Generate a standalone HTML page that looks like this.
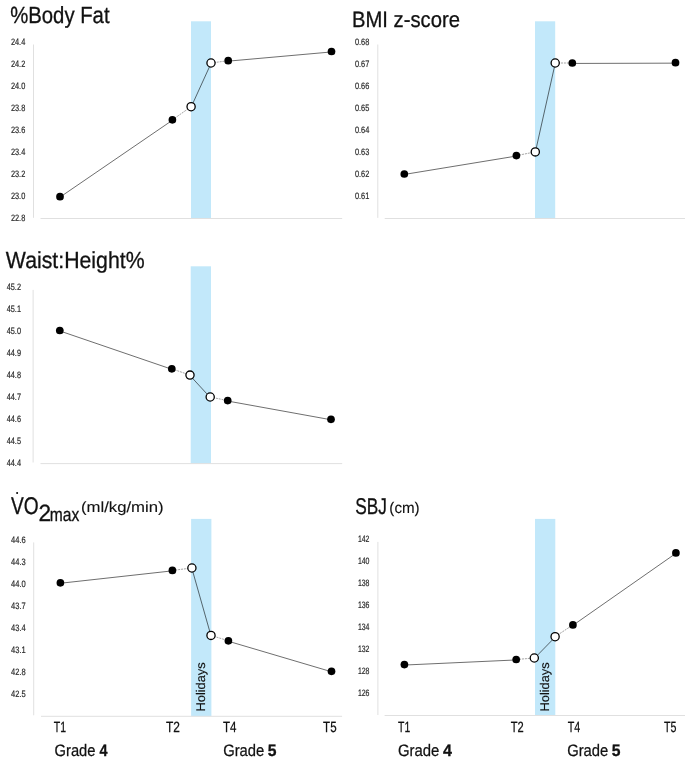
<!DOCTYPE html><html><head><meta charset="utf-8"><style>html,body{margin:0;padding:0;background:#fff;}svg{display:block;will-change:transform;}text{font-family:"Liberation Sans", sans-serif;text-rendering:geometricPrecision;}</style></head><body>
<svg width="685" height="762" viewBox="0 0 685 762">
<rect width="685" height="762" fill="#fff"/>
<rect x="191" y="21.3" width="20" height="197.2" fill="#c2e8fa"/>
<line x1="33.5" y1="44.5" x2="33.5" y2="217.8" stroke="#e0e0e0" stroke-width="1"/>
<line x1="40.5" y1="218.5" x2="342.2" y2="218.5" stroke="#e0e0e0" stroke-width="1"/>
<text x="25.3" y="44.9" font-size="9.3" text-anchor="end" fill="#2a2a2a" textLength="14.4" lengthAdjust="spacingAndGlyphs" stroke="#2a2a2a" stroke-width="0.2">24.4</text>
<text x="25.3" y="66.9" font-size="9.3" text-anchor="end" fill="#2a2a2a" textLength="14.4" lengthAdjust="spacingAndGlyphs" stroke="#2a2a2a" stroke-width="0.2">24.2</text>
<text x="25.3" y="88.9" font-size="9.3" text-anchor="end" fill="#2a2a2a" textLength="14.4" lengthAdjust="spacingAndGlyphs" stroke="#2a2a2a" stroke-width="0.2">24.0</text>
<text x="25.3" y="110.9" font-size="9.3" text-anchor="end" fill="#2a2a2a" textLength="14.4" lengthAdjust="spacingAndGlyphs" stroke="#2a2a2a" stroke-width="0.2">23.8</text>
<text x="25.3" y="132.9" font-size="9.3" text-anchor="end" fill="#2a2a2a" textLength="14.4" lengthAdjust="spacingAndGlyphs" stroke="#2a2a2a" stroke-width="0.2">23.6</text>
<text x="25.3" y="154.9" font-size="9.3" text-anchor="end" fill="#2a2a2a" textLength="14.4" lengthAdjust="spacingAndGlyphs" stroke="#2a2a2a" stroke-width="0.2">23.4</text>
<text x="25.3" y="176.9" font-size="9.3" text-anchor="end" fill="#2a2a2a" textLength="14.4" lengthAdjust="spacingAndGlyphs" stroke="#2a2a2a" stroke-width="0.2">23.2</text>
<text x="25.3" y="198.9" font-size="9.3" text-anchor="end" fill="#2a2a2a" textLength="14.4" lengthAdjust="spacingAndGlyphs" stroke="#2a2a2a" stroke-width="0.2">23.0</text>
<text x="25.3" y="220.9" font-size="9.3" text-anchor="end" fill="#2a2a2a" textLength="14.4" lengthAdjust="spacingAndGlyphs" stroke="#2a2a2a" stroke-width="0.2">22.8</text>
<line x1="60" y1="197.15" x2="172.4" y2="120.25" stroke="#000" stroke-opacity="0.57" stroke-width="1"/>
<line x1="172.4" y1="119.8" x2="191.1" y2="106.7" stroke="#a4a4a4" stroke-width="1" stroke-dasharray="2 0.9"/>
<line x1="191.1" y1="107.15" x2="211" y2="63.45" stroke="#000" stroke-opacity="0.57" stroke-width="1"/>
<line x1="211" y1="63" x2="228.2" y2="60.7" stroke="#a4a4a4" stroke-width="1" stroke-dasharray="2 0.9"/>
<line x1="228.2" y1="61.15" x2="331.5" y2="51.95" stroke="#000" stroke-opacity="0.57" stroke-width="1"/>
<circle cx="60" cy="196.7" r="3.85" fill="#000"/>
<circle cx="172.4" cy="119.8" r="3.85" fill="#000"/>
<circle cx="228.2" cy="60.7" r="3.85" fill="#000"/>
<circle cx="331.5" cy="51.5" r="3.85" fill="#000"/>
<circle cx="191.1" cy="106.7" r="4.1" fill="#fff" stroke="#000" stroke-width="1.3"/>
<circle cx="211" cy="63" r="4.1" fill="#fff" stroke="#000" stroke-width="1.3"/>
<rect x="535" y="21.3" width="20.2" height="197.2" fill="#c2e8fa"/>
<line x1="377.8" y1="44.5" x2="377.8" y2="217.9" stroke="#e0e0e0" stroke-width="1"/>
<line x1="384.7" y1="218.5" x2="685" y2="218.5" stroke="#e0e0e0" stroke-width="1"/>
<text x="369.3" y="44.8" font-size="9.3" text-anchor="end" fill="#2a2a2a" textLength="14.4" lengthAdjust="spacingAndGlyphs" stroke="#2a2a2a" stroke-width="0.2">0.68</text>
<text x="369.3" y="66.8" font-size="9.3" text-anchor="end" fill="#2a2a2a" textLength="14.4" lengthAdjust="spacingAndGlyphs" stroke="#2a2a2a" stroke-width="0.2">0.67</text>
<text x="369.3" y="88.8" font-size="9.3" text-anchor="end" fill="#2a2a2a" textLength="14.4" lengthAdjust="spacingAndGlyphs" stroke="#2a2a2a" stroke-width="0.2">0.66</text>
<text x="369.3" y="110.8" font-size="9.3" text-anchor="end" fill="#2a2a2a" textLength="14.4" lengthAdjust="spacingAndGlyphs" stroke="#2a2a2a" stroke-width="0.2">0.65</text>
<text x="369.3" y="132.8" font-size="9.3" text-anchor="end" fill="#2a2a2a" textLength="14.4" lengthAdjust="spacingAndGlyphs" stroke="#2a2a2a" stroke-width="0.2">0.64</text>
<text x="369.3" y="154.8" font-size="9.3" text-anchor="end" fill="#2a2a2a" textLength="14.4" lengthAdjust="spacingAndGlyphs" stroke="#2a2a2a" stroke-width="0.2">0.63</text>
<text x="369.3" y="176.8" font-size="9.3" text-anchor="end" fill="#2a2a2a" textLength="14.4" lengthAdjust="spacingAndGlyphs" stroke="#2a2a2a" stroke-width="0.2">0.62</text>
<text x="369.3" y="198.8" font-size="9.3" text-anchor="end" fill="#2a2a2a" textLength="14.4" lengthAdjust="spacingAndGlyphs" stroke="#2a2a2a" stroke-width="0.2">0.61</text>
<line x1="404.3" y1="174.45" x2="516.4" y2="156.05" stroke="#000" stroke-opacity="0.57" stroke-width="1"/>
<line x1="516.4" y1="155.6" x2="535.3" y2="151.9" stroke="#a4a4a4" stroke-width="1" stroke-dasharray="2 0.9"/>
<line x1="535.3" y1="152.35" x2="555.2" y2="63.45" stroke="#000" stroke-opacity="0.57" stroke-width="1"/>
<line x1="555.2" y1="63.0" x2="572.3" y2="63.0" stroke="#a4a4a4" stroke-width="1" stroke-dasharray="2 0.9"/>
<line x1="572.3" y1="63.45" x2="675.5" y2="63.15" stroke="#000" stroke-opacity="0.57" stroke-width="1"/>
<circle cx="404.3" cy="174.0" r="3.85" fill="#000"/>
<circle cx="516.4" cy="155.6" r="3.85" fill="#000"/>
<circle cx="572.3" cy="63.0" r="3.85" fill="#000"/>
<circle cx="675.5" cy="62.7" r="3.85" fill="#000"/>
<circle cx="535.3" cy="151.9" r="4.1" fill="#fff" stroke="#000" stroke-width="1.3"/>
<circle cx="555.2" cy="63.0" r="4.1" fill="#fff" stroke="#000" stroke-width="1.3"/>
<rect x="190.7" y="266.3" width="20.3" height="197.3" fill="#c2e8fa"/>
<line x1="33.1" y1="289.9" x2="33.1" y2="462.5" stroke="#e0e0e0" stroke-width="1"/>
<line x1="40.5" y1="463.6" x2="342.2" y2="463.6" stroke="#e0e0e0" stroke-width="1"/>
<text x="21.0" y="289.6" font-size="9.3" text-anchor="end" fill="#2a2a2a" textLength="14.3" lengthAdjust="spacingAndGlyphs" stroke="#2a2a2a" stroke-width="0.2">45.2</text>
<text x="21.0" y="311.6" font-size="9.3" text-anchor="end" fill="#2a2a2a" textLength="14.3" lengthAdjust="spacingAndGlyphs" stroke="#2a2a2a" stroke-width="0.2">45.1</text>
<text x="21.0" y="333.6" font-size="9.3" text-anchor="end" fill="#2a2a2a" textLength="14.3" lengthAdjust="spacingAndGlyphs" stroke="#2a2a2a" stroke-width="0.2">45.0</text>
<text x="21.0" y="355.6" font-size="9.3" text-anchor="end" fill="#2a2a2a" textLength="14.3" lengthAdjust="spacingAndGlyphs" stroke="#2a2a2a" stroke-width="0.2">44.9</text>
<text x="21.0" y="377.6" font-size="9.3" text-anchor="end" fill="#2a2a2a" textLength="14.3" lengthAdjust="spacingAndGlyphs" stroke="#2a2a2a" stroke-width="0.2">44.8</text>
<text x="21.0" y="399.6" font-size="9.3" text-anchor="end" fill="#2a2a2a" textLength="14.3" lengthAdjust="spacingAndGlyphs" stroke="#2a2a2a" stroke-width="0.2">44.7</text>
<text x="21.0" y="421.6" font-size="9.3" text-anchor="end" fill="#2a2a2a" textLength="14.3" lengthAdjust="spacingAndGlyphs" stroke="#2a2a2a" stroke-width="0.2">44.6</text>
<text x="21.0" y="443.6" font-size="9.3" text-anchor="end" fill="#2a2a2a" textLength="14.3" lengthAdjust="spacingAndGlyphs" stroke="#2a2a2a" stroke-width="0.2">44.5</text>
<text x="21.0" y="465.6" font-size="9.3" text-anchor="end" fill="#2a2a2a" textLength="14.3" lengthAdjust="spacingAndGlyphs" stroke="#2a2a2a" stroke-width="0.2">44.4</text>
<line x1="59.8" y1="330.95" x2="171.8" y2="369.25" stroke="#000" stroke-opacity="0.57" stroke-width="1"/>
<line x1="171.8" y1="368.8" x2="190.0" y2="375.1" stroke="#a4a4a4" stroke-width="1" stroke-dasharray="2 0.9"/>
<line x1="190.0" y1="375.55" x2="210.2" y2="397.45" stroke="#000" stroke-opacity="0.57" stroke-width="1"/>
<line x1="210.2" y1="397.0" x2="227.7" y2="400.6" stroke="#a4a4a4" stroke-width="1" stroke-dasharray="2 0.9"/>
<line x1="227.7" y1="401.05" x2="331.0" y2="419.75" stroke="#000" stroke-opacity="0.57" stroke-width="1"/>
<circle cx="59.8" cy="330.5" r="3.85" fill="#000"/>
<circle cx="171.8" cy="368.8" r="3.85" fill="#000"/>
<circle cx="227.7" cy="400.6" r="3.85" fill="#000"/>
<circle cx="331.0" cy="419.3" r="3.85" fill="#000"/>
<circle cx="190.0" cy="375.1" r="4.1" fill="#fff" stroke="#000" stroke-width="1.3"/>
<circle cx="210.2" cy="397.0" r="4.1" fill="#fff" stroke="#000" stroke-width="1.3"/>
<rect x="191.1" y="518.9" width="20.3" height="197.4" fill="#c2e8fa"/>
<line x1="33.7" y1="542.4" x2="33.7" y2="715.3" stroke="#e0e0e0" stroke-width="1"/>
<line x1="41" y1="716.3" x2="342.1" y2="716.3" stroke="#e0e0e0" stroke-width="1"/>
<text x="25.8" y="542.8" font-size="9.3" text-anchor="end" fill="#2a2a2a" textLength="14.7" lengthAdjust="spacingAndGlyphs" stroke="#2a2a2a" stroke-width="0.2">44.6</text>
<text x="25.8" y="564.8" font-size="9.3" text-anchor="end" fill="#2a2a2a" textLength="14.7" lengthAdjust="spacingAndGlyphs" stroke="#2a2a2a" stroke-width="0.2">44.3</text>
<text x="25.8" y="586.8" font-size="9.3" text-anchor="end" fill="#2a2a2a" textLength="14.7" lengthAdjust="spacingAndGlyphs" stroke="#2a2a2a" stroke-width="0.2">44.0</text>
<text x="25.8" y="608.8" font-size="9.3" text-anchor="end" fill="#2a2a2a" textLength="14.7" lengthAdjust="spacingAndGlyphs" stroke="#2a2a2a" stroke-width="0.2">43.7</text>
<text x="25.8" y="630.8" font-size="9.3" text-anchor="end" fill="#2a2a2a" textLength="14.7" lengthAdjust="spacingAndGlyphs" stroke="#2a2a2a" stroke-width="0.2">43.4</text>
<text x="25.8" y="652.8" font-size="9.3" text-anchor="end" fill="#2a2a2a" textLength="14.7" lengthAdjust="spacingAndGlyphs" stroke="#2a2a2a" stroke-width="0.2">43.1</text>
<text x="25.8" y="674.8" font-size="9.3" text-anchor="end" fill="#2a2a2a" textLength="14.7" lengthAdjust="spacingAndGlyphs" stroke="#2a2a2a" stroke-width="0.2">42.8</text>
<text x="25.8" y="696.8" font-size="9.3" text-anchor="end" fill="#2a2a2a" textLength="14.7" lengthAdjust="spacingAndGlyphs" stroke="#2a2a2a" stroke-width="0.2">42.5</text>
<line x1="60.4" y1="583.25" x2="172.4" y2="570.85" stroke="#000" stroke-opacity="0.57" stroke-width="1"/>
<line x1="172.4" y1="570.4" x2="191.9" y2="568.0" stroke="#a4a4a4" stroke-width="1" stroke-dasharray="2 0.9"/>
<line x1="191.9" y1="568.45" x2="211.0" y2="635.85" stroke="#000" stroke-opacity="0.57" stroke-width="1"/>
<line x1="211.0" y1="635.4" x2="228.4" y2="640.8" stroke="#a4a4a4" stroke-width="1" stroke-dasharray="2 0.9"/>
<line x1="228.4" y1="641.25" x2="331.5" y2="671.75" stroke="#000" stroke-opacity="0.57" stroke-width="1"/>
<circle cx="60.4" cy="582.8" r="3.85" fill="#000"/>
<circle cx="172.4" cy="570.4" r="3.85" fill="#000"/>
<circle cx="228.4" cy="640.8" r="3.85" fill="#000"/>
<circle cx="331.5" cy="671.3" r="3.85" fill="#000"/>
<circle cx="191.9" cy="568.0" r="4.1" fill="#fff" stroke="#000" stroke-width="1.3"/>
<circle cx="211.0" cy="635.4" r="4.1" fill="#fff" stroke="#000" stroke-width="1.3"/>
<rect x="535" y="518.9" width="20.3" height="196.6" fill="#c2e8fa"/>
<line x1="377.9" y1="541.9" x2="377.9" y2="715.0" stroke="#e0e0e0" stroke-width="1"/>
<line x1="384.6" y1="715.5" x2="685" y2="715.5" stroke="#e0e0e0" stroke-width="1"/>
<text x="369.5" y="541.6" font-size="9.3" text-anchor="end" fill="#2a2a2a" textLength="11.6" lengthAdjust="spacingAndGlyphs" stroke="#2a2a2a" stroke-width="0.2">142</text>
<text x="369.5" y="563.6" font-size="9.3" text-anchor="end" fill="#2a2a2a" textLength="11.6" lengthAdjust="spacingAndGlyphs" stroke="#2a2a2a" stroke-width="0.2">140</text>
<text x="369.5" y="585.6" font-size="9.3" text-anchor="end" fill="#2a2a2a" textLength="11.6" lengthAdjust="spacingAndGlyphs" stroke="#2a2a2a" stroke-width="0.2">138</text>
<text x="369.5" y="607.6" font-size="9.3" text-anchor="end" fill="#2a2a2a" textLength="11.6" lengthAdjust="spacingAndGlyphs" stroke="#2a2a2a" stroke-width="0.2">136</text>
<text x="369.5" y="629.6" font-size="9.3" text-anchor="end" fill="#2a2a2a" textLength="11.6" lengthAdjust="spacingAndGlyphs" stroke="#2a2a2a" stroke-width="0.2">134</text>
<text x="369.5" y="651.6" font-size="9.3" text-anchor="end" fill="#2a2a2a" textLength="11.6" lengthAdjust="spacingAndGlyphs" stroke="#2a2a2a" stroke-width="0.2">132</text>
<text x="369.5" y="673.6" font-size="9.3" text-anchor="end" fill="#2a2a2a" textLength="11.6" lengthAdjust="spacingAndGlyphs" stroke="#2a2a2a" stroke-width="0.2">128</text>
<text x="369.5" y="695.6" font-size="9.3" text-anchor="end" fill="#2a2a2a" textLength="11.6" lengthAdjust="spacingAndGlyphs" stroke="#2a2a2a" stroke-width="0.2">126</text>
<line x1="404.4" y1="665.05" x2="516.2" y2="659.95" stroke="#000" stroke-opacity="0.57" stroke-width="1"/>
<line x1="516.2" y1="659.5" x2="534.3" y2="658.0" stroke="#a4a4a4" stroke-width="1" stroke-dasharray="2 0.9"/>
<line x1="534.3" y1="658.45" x2="555.1" y2="637.15" stroke="#000" stroke-opacity="0.57" stroke-width="1"/>
<line x1="555.1" y1="636.7" x2="572.9" y2="624.9" stroke="#a4a4a4" stroke-width="1" stroke-dasharray="2 0.9"/>
<line x1="572.9" y1="625.35" x2="675.9" y2="553.35" stroke="#000" stroke-opacity="0.57" stroke-width="1"/>
<circle cx="404.4" cy="664.6" r="3.85" fill="#000"/>
<circle cx="516.2" cy="659.5" r="3.85" fill="#000"/>
<circle cx="572.9" cy="624.9" r="3.85" fill="#000"/>
<circle cx="675.9" cy="552.9" r="3.85" fill="#000"/>
<circle cx="534.3" cy="658.0" r="4.1" fill="#fff" stroke="#000" stroke-width="1.3"/>
<circle cx="555.1" cy="636.7" r="4.1" fill="#fff" stroke="#000" stroke-width="1.3"/>
<circle cx="17.1" cy="492.9" r="1.0" fill="#000"/>
<text id="t_bf" x="10.19" y="23.3" font-size="23.4" fill="#111" textLength="99.33" lengthAdjust="spacingAndGlyphs" stroke="#111" stroke-width="0.3">%Body Fat</text>
<text id="t_bmi" x="351.94" y="27.0" font-size="22.2" fill="#111" textLength="107.96" lengthAdjust="spacingAndGlyphs" stroke="#111" stroke-width="0.3">BMI z-score</text>
<text id="t_wh" x="5.87" y="268.3" font-size="23.3" fill="#111" textLength="138.69" lengthAdjust="spacingAndGlyphs" stroke="#111" stroke-width="0.3">Waist:Height%</text>
<text id="t_vo" x="10.89" y="514.0" font-size="24.2" fill="#111" textLength="27.66" lengthAdjust="spacingAndGlyphs" stroke="#111" stroke-width="0.3">VO</text>
<text id="t_2" x="38.46" y="521.4" font-size="23.5" fill="#111" textLength="12.61" lengthAdjust="spacingAndGlyphs" stroke="#111" stroke-width="0.3">2</text>
<text id="t_max" x="49.8" y="521.4" font-size="19.0" fill="#111" textLength="29.51" lengthAdjust="spacingAndGlyphs" stroke="#111" stroke-width="0.3">max</text>
<text id="t_ml" x="80.91" y="511.6" font-size="14.8" fill="#111" textLength="82.76" lengthAdjust="spacingAndGlyphs" stroke="#111" stroke-width="0.12">(ml/kg/min)</text>
<text id="t_sbj" x="355.14" y="513.7" font-size="22.8" fill="#111" textLength="31.68" lengthAdjust="spacingAndGlyphs" stroke="#111" stroke-width="0.3">SBJ</text>
<text id="t_cm" x="389.37" y="513.0" font-size="15.5" fill="#111" textLength="30.32" lengthAdjust="spacingAndGlyphs" stroke="#111" stroke-width="0.12">(cm)</text>
<text id="l_t1" x="53.75" y="731.8" font-size="14.8" fill="#111" textLength="12.33" lengthAdjust="spacingAndGlyphs" stroke="#111" stroke-width="0.25">T1</text>
<text id="l_t2" x="165.93" y="731.8" font-size="14.8" fill="#111" textLength="13.95" lengthAdjust="spacingAndGlyphs" stroke="#111" stroke-width="0.25">T2</text>
<text id="l_t4" x="222.92" y="731.8" font-size="14.8" fill="#111" textLength="13.49" lengthAdjust="spacingAndGlyphs" stroke="#111" stroke-width="0.25">T4</text>
<text id="l_t5" x="323.09" y="731.8" font-size="14.8" fill="#111" textLength="13.49" lengthAdjust="spacingAndGlyphs" stroke="#111" stroke-width="0.25">T5</text>
<text id="r_t1" x="398.07" y="731.8" font-size="14.8" fill="#111" textLength="12.17" lengthAdjust="spacingAndGlyphs" stroke="#111" stroke-width="0.25">T1</text>
<text id="r_t2" x="510.82" y="731.8" font-size="14.8" fill="#111" textLength="12.98" lengthAdjust="spacingAndGlyphs" stroke="#111" stroke-width="0.25">T2</text>
<text id="r_t4" x="567.65" y="731.8" font-size="14.8" fill="#111" textLength="12.56" lengthAdjust="spacingAndGlyphs" stroke="#111" stroke-width="0.25">T4</text>
<text id="r_t5" x="664.08" y="731.8" font-size="14.8" fill="#111" textLength="12.47" lengthAdjust="spacingAndGlyphs" stroke="#111" stroke-width="0.25">T5</text>
<text id="l_g4" x="54.54" y="755.9" font-size="16.6" fill="#111" textLength="40.91" lengthAdjust="spacingAndGlyphs" stroke="#111" stroke-width="0.25">Grade</text>
<text id="l_n4" x="99.49" y="755.9" font-size="16.6" fill="#111" font-weight="bold" textLength="8.0" lengthAdjust="spacingAndGlyphs" stroke="#111" stroke-width="0.3">4</text>
<text id="l_g5" x="223.16" y="755.9" font-size="16.6" fill="#111" textLength="41.06" lengthAdjust="spacingAndGlyphs" stroke="#111" stroke-width="0.25">Grade</text>
<text id="l_n5" x="267.83" y="755.9" font-size="16.6" fill="#111" font-weight="bold" textLength="8.72" lengthAdjust="spacingAndGlyphs" stroke="#111" stroke-width="0.3">5</text>
<text id="r_g4" x="397.93" y="755.9" font-size="16.6" fill="#111" textLength="41.35" lengthAdjust="spacingAndGlyphs" stroke="#111" stroke-width="0.25">Grade</text>
<text id="r_n4" x="442.94" y="755.9" font-size="16.6" fill="#111" font-weight="bold" textLength="8.94" lengthAdjust="spacingAndGlyphs" stroke="#111" stroke-width="0.3">4</text>
<text id="r_g5" x="567.16" y="755.9" font-size="16.6" fill="#111" textLength="41.06" lengthAdjust="spacingAndGlyphs" stroke="#111" stroke-width="0.25">Grade</text>
<text id="r_n5" x="611.83" y="755.9" font-size="16.6" fill="#111" font-weight="bold" textLength="8.72" lengthAdjust="spacingAndGlyphs" stroke="#111" stroke-width="0.3">5</text>
<text id="h_l" transform="translate(205.2,711.46) rotate(-90)" x="0" y="0" font-size="12.6" fill="#111" textLength="49.12" lengthAdjust="spacingAndGlyphs" stroke="#111" stroke-width="0.15">Holidays</text>
<text id="h_r" transform="translate(549.4,711.46) rotate(-90)" x="0" y="0" font-size="12.6" fill="#111" textLength="49.12" lengthAdjust="spacingAndGlyphs" stroke="#111" stroke-width="0.15">Holidays</text>
</svg></body></html>
